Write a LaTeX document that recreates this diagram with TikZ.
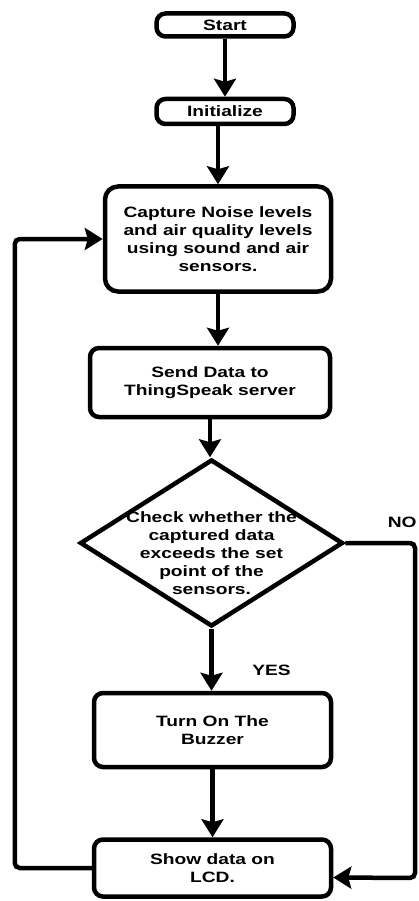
\documentclass[tikz,border=0pt]{standalone}
\usepackage{fontspec}
\setmainfont[FakeStretch=1.28]{Liberation Sans}
\usepackage{tikz}
\usetikzlibrary{shapes.geometric, arrows.meta, positioning, calc}
\tikzstyle{arrow} = [line width=4.5pt, rounded corners=5pt, -{Stealth[length=18pt, width=22pt, inset=3pt]}]
\tikzstyle{basic} = [rectangle, rounded corners=9pt, line width=4.5pt, text centered, align=center, inner sep=0pt, draw=black, fill=white, text=black, font=\bfseries\fontsize{15}{18}\selectfont]
\tikzstyle{decision} = [diamond, line width=4.5pt, inner sep=0pt, draw=black, fill=white]
\tikzstyle{tag} = [font=\bfseries\fontsize{15}{18}\selectfont, align=center]

\begin{document}
\begin{tikzpicture}[x=1pt, y=-1pt, node distance=0mm]
\useasboundingbox (0,0) rectangle (418,901);

\node (start) [basic, minimum width=137pt, minimum height=23pt] at (225,25) {Start};
\node (init) [basic, minimum width=137pt, minimum height=25pt, below=58pt of start] {Initialize};
\node (capture) [basic, rounded corners=13pt, minimum width=226pt, minimum height=105pt, below=58pt of init, xshift=-7pt] {Capture Noise levels\\and air quality levels\\using sound and air\\sensors.};
\node (send) [basic, minimum width=240pt, minimum height=69pt, below=52pt of capture, xshift=-8pt] {Send Data to\\ThingSpeak server};
\node (check) [decision, minimum width=263pt, minimum height=167pt, below=38pt of send, xshift=1.5pt,
  label={[tag, yshift=-10pt]center:Check whether the\\captured data\\exceeds the set\\point of the\\sensors.}] {};
\node (turn) [basic, minimum width=237pt, minimum height=74pt, below=62pt of check, xshift=1pt] {Turn On The\\Buzzer};
\node (show) [basic, minimum width=237pt, minimum height=57pt, below=68pt of turn] {Show data on\\LCD.};

\node (yes) [tag] at ($(check.south)+(60,42)$) {YES};
\node (no) [tag] at ($(check.east)+(57,-21)$) {NO};

\coordinate (back) at ($(capture.west)+(-88,0)$);
\coordinate (nocorner) at (415,878);

\draw [arrow] (start.south) -- (init.north);
\draw [arrow] (capture.north |- init.south) -- (capture.north);
\draw [arrow] (capture.south) -- (capture.south |- send.north);
\draw [arrow] (send.south) -- (send.south |- check.north);
\draw [arrow] (check.south) -- (check.south |- turn.north);
\draw [arrow] (turn.south) -- (show.north);

% loop back and the NO branch
\draw [arrow] (show.west) -| (back) -- (capture.west);
\draw [arrow] (check.east) -| (nocorner) -- ([yshift=-9.5pt]show.east);

\end{tikzpicture}
\end{document}
